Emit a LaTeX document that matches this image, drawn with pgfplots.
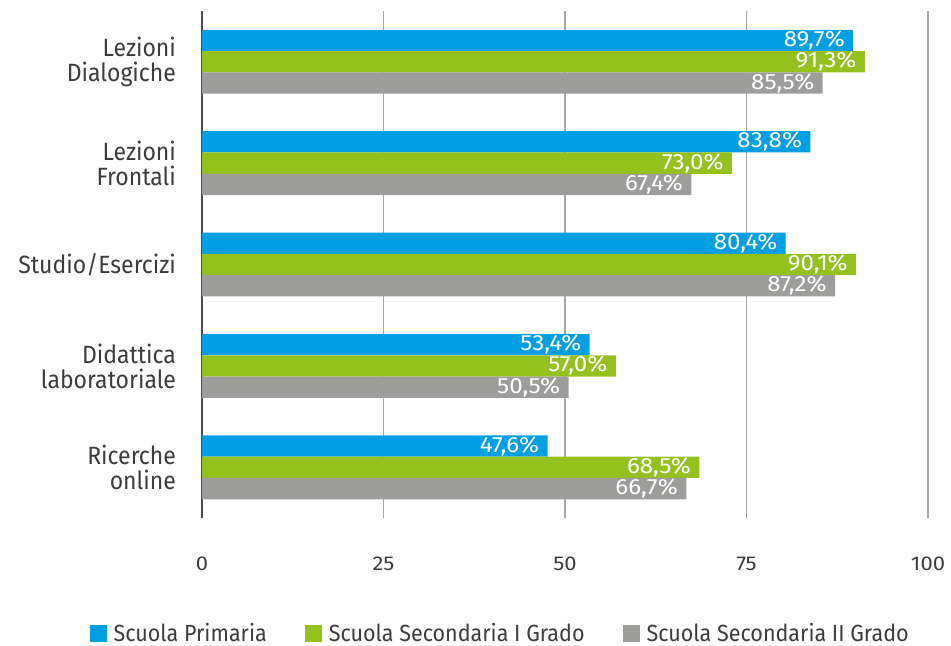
\documentclass[border=0pt]{standalone}
\usepackage{pgfplots}
\pgfplotsset{compat=1.18}
\usepackage{fontspec}
\setmainfont{Fira Sans}[FakeStretch=0.92]
\newfontfamily\lblfont{Fira Sans}[FakeStretch=1.1]

\definecolor{cblue}{HTML}{009FE3}
\definecolor{cgreen}{HTML}{95C11F}
\definecolor{cgray}{HTML}{9D9D9C}
\definecolor{ctext}{HTML}{3C3C3B}
\definecolor{cgrid}{HTML}{A8A8A8}

\begin{document}
\begin{tikzpicture}
\begin{axis}[
    at={(101pt,63.5pt)}, anchor=south west,
    scale only axis,
    width=363pt, height=253.5pt,
    xbar=0pt,
    bar width=0.21,
    xmin=0, xmax=100,
    ymin=-0.5, ymax=4.5,
    y dir=reverse,
    /pgf/number format/assume math mode=true,
    xtick={0,25,50,75,100},
    ytick={0,1,2,3,4},
    yticklabels={Lezioni\\Dialogiche, Lezioni\\Frontali, Studio/Esercizi, Didattica\\laboratoriale, Ricerche\\online},
    major tick length=0pt,
    axis lines*=left,
    x axis line style={draw=none},
    y axis line style={draw=black!70, line width=1pt},
    xmajorgrids,
    grid style={cgrid, line width=0.9pt},
    yticklabel style={align=right, font=\fontsize{12.5}{12.5}\selectfont, text=ctext, xshift=-9.5pt},
    xticklabel style={font=\lblfont\fontsize{10}{11}\selectfont, text=ctext, yshift=-16pt},
    point meta=x,
    nodes near coords={\pgfmathprintnumber[fixed, fixed zerofill, precision=1, use comma]{\pgfplotspointmeta}\%},
    every node near coord/.append style={anchor=east, text=white, font=\lblfont\fontsize{11}{11}\selectfont, inner sep=0pt, xshift=-4pt},
    legend columns=3,
    legend style={at={(0.412,-0.228)}, anchor=center, draw=none, fill=none,
        font=\fontsize{11.7}{12}\selectfont, text=ctext,
        /tikz/every even column/.append style={column sep=17pt},
        /tikz/every odd column/.append style={column sep=1.5pt}},
    legend image code/.code={\fill[#1] (0pt,-4.3pt) rectangle (8.5pt,4.3pt);},
]
\addplot[fill=cblue, draw=none] coordinates {(89.7,0) (83.8,1) (80.4,2) (53.4,3) (47.6,4)};
\addplot[fill=cgreen, draw=none] coordinates {(91.3,0) (73.0,1) (90.1,2) (57.0,3) (68.5,4)};
\addplot[fill=cgray, draw=none] coordinates {(85.5,0) (67.4,1) (87.2,2) (50.5,3) (66.7,4)};
\legend{Scuola Primaria, Scuola Secondaria I Grado, Scuola Secondaria II Grado}
\end{axis}
\pgfresetboundingbox
\path[use as bounding box] (0,0) rectangle (475.5pt,322.5pt);
\end{tikzpicture}
\end{document}
